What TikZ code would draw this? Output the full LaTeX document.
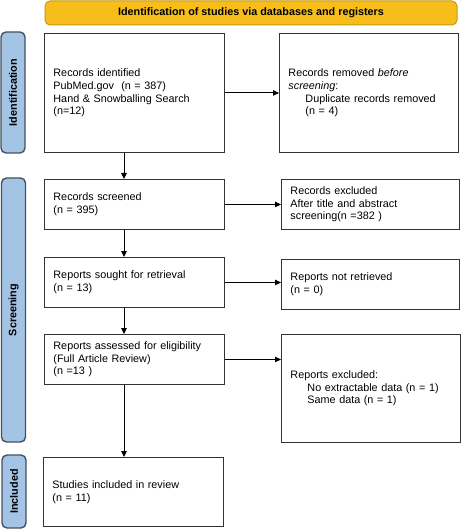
\documentclass[tikz,border=0pt]{standalone}
\usepackage{fontspec}
\setmainfont{Liberation Sans}
\usetikzlibrary{arrows.meta}
\definecolor{bannerfill}{HTML}{F6BD1B}
\definecolor{bannerline}{HTML}{C99A12}
\definecolor{sidefill}{HTML}{A4C4E6}
\definecolor{sideline}{HTML}{44525E}
\tikzset{
  box/.style={draw=black!80, line width=0.9pt, anchor=north west, inner xsep=9pt,
    inner ysep=0pt, align=left, font=\fontsize{10.8}{12.7}\selectfont},
  side/.style={draw=sideline, fill=sidefill, line width=1.4pt, rounded corners=5pt,
    rotate=90, minimum height=24pt, inner sep=0pt, font=\bfseries\fontsize{10.8}{12.7}\selectfont},
  arr/.style={-{Triangle[length=6pt,width=5.5pt]}, line width=0.9pt},
}
\begin{document}
\begin{tikzpicture}[x=1pt,y=-1pt]
  \useasboundingbox (0,0) rectangle (461,529);
  \fill[white] (0,0) rectangle (461,529);
  % banner
  \node (banner) at (251,13) [draw=bannerline, fill=bannerfill, line width=1pt,
    rounded corners=5pt, minimum width=412pt, minimum height=24pt,
    font=\bfseries\fontsize{10.8}{12.7}\selectfont]
    {Identification of studies via databases and registers};
  % phases
  \node (lblid) at (13,92.5) [side, minimum width=121pt] {Identification};
  \node (lblscr) at (13.5,310) [side, minimum width=264pt] {Screening};
  \node (lblinc) at (14,491.5) [side, minimum width=73pt] {Included};
  % left column
  \node (ident) at (44,33) [box, text width=162pt, minimum height=119pt]
    {Records identified\\PubMed.gov\ \ (n = 387)\\Hand \& Snowballing Search\\(n=12)};
  \node (screened) at (44,179) [box, text width=162pt, minimum height=50pt]
    {Records screened\\(n = 395)};
  \node (sought) at (44,257) [box, text width=162pt, minimum height=50pt]
    {Reports sought for retrieval\\(n = 13)};
  \node (assessed) at (44,334) [box, text width=162pt, minimum height=50pt]
    {Reports assessed for eligibility\\(Full Article Review)\\(n =13 )};
  \node (included) at (43,457) [box, text width=162pt, minimum height=69pt]
    {Studies included in review\\(n = 11)};
  % right column
  \node (removed) at (279,33) [box, text width=161pt, minimum height=119pt]
    {Records removed \textit{before}\\\textit{screening}:\\\hspace*{17pt}Duplicate records removed\\\hspace*{17pt}(n = 4)};
  \node (excluded) at (281,179) [box, text width=160pt, minimum height=50pt]
    {Records excluded\\After title and abstract\\screening(n =382 )};
  \node (notret) at (281,259) [box, text width=160pt, minimum height=50pt]
    {Reports not retrieved\\(n = 0)};
  \node (repexcl) at (281,334) [box, text width=161pt, minimum height=108pt]
    {Reports excluded:\\\hspace*{17pt}No extractable data (n = 1)\\\hspace*{17pt}Same data (n = 1)};
  % arrows
  \coordinate (spine) at (124,0);
  \draw[arr] (ident.south -| spine) -- (screened.north -| spine);
  \draw[arr] (screened.south -| spine) -- (sought.north -| spine);
  \draw[arr] (sought.south -| spine) -- (assessed.north -| spine);
  \draw[arr] (assessed.south -| spine) -- (included.north -| spine);
  \draw[arr] (ident.east) -- (ident.east -| removed.west);
  \draw[arr] (screened.east) -- (screened.east -| excluded.west);
  \draw[arr] (sought.east) -- (sought.east -| notret.west);
  \draw[arr] (assessed.east) -- (assessed.east -| repexcl.west);
\end{tikzpicture}
\end{document}
